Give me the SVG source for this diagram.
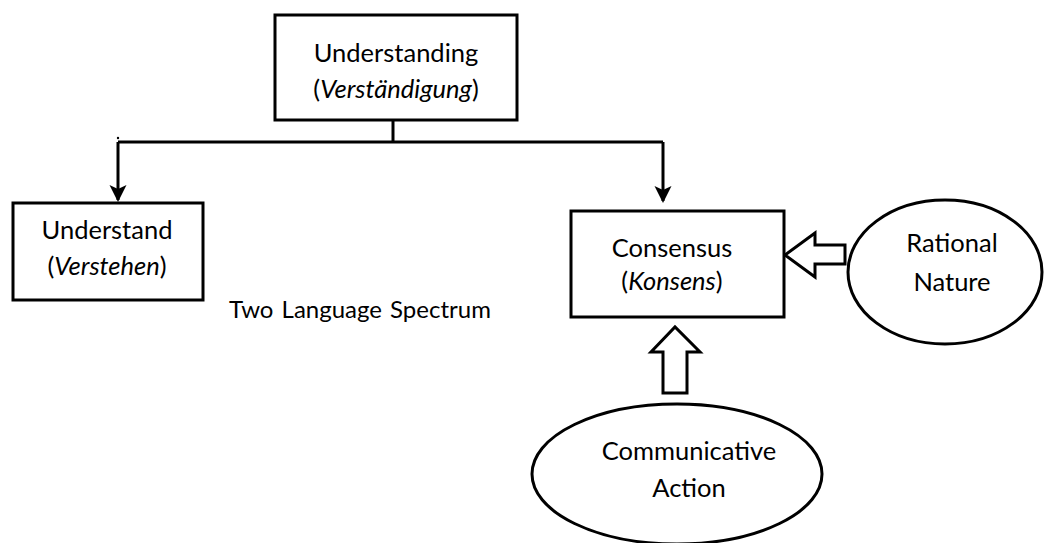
<svg xmlns="http://www.w3.org/2000/svg" width="1046" height="543" viewBox="0 0 1046 543">
<defs>
<style>
.box{fill:#fff;stroke:#000;stroke-width:3}
.ell{fill:#fff;stroke:#000;stroke-width:3}
.hol{fill:#fff;stroke:#000;stroke-width:3;stroke-linejoin:miter}
.ln{fill:none;stroke:#000;stroke-width:3}
text{font-family:Lato,"Liberation Sans",sans-serif;font-size:25.5px;fill:#000;text-anchor:middle}
.it{font-style:italic}
</style>
<marker id="ah" markerWidth="17" markerHeight="18" refX="15" refY="8.5" orient="auto" markerUnits="userSpaceOnUse">
<path d="M0,0 L17,8.5 L0,17 L4,8.5 Z" fill="#000"/>
</marker>
</defs>
<rect width="1046" height="543" fill="#fff"/>
<g id="connectors">
<path class="ln" d="M393,120 V142"/>
<path class="ln" d="M118,142 H663"/>
<path class="ln" d="M118,142 V200" marker-end="url(#ah)"/>
<path class="ln" d="M663,142 V201" marker-end="url(#ah)"/>
<path class="hol" d="M845,245 H815 V233 L785,255 L815,277 V264 H845 Z"/>
<path class="hol" d="M663,393 V352 H651 L675,327 L700,352 H687 V393 Z"/>
<circle cx="118" cy="138" r="1.2" fill="#000"/>
<circle cx="196" cy="239" r="1.2" fill="#000"/>
</g>
<g id="understanding">
<rect class="box" x="275" y="15" width="242" height="105"/>
<text x="396" y="62">Understanding</text>
<text x="396" y="98">(<tspan class="it">Verständigung</tspan>)</text>
</g>
<g id="understand">
<rect class="box" x="13" y="203" width="190" height="97"/>
<text x="107" y="239">Understand</text>
<text x="107" y="275">(<tspan class="it">Verstehen</tspan>)</text>
</g>
<g id="consensus">
<rect class="box" x="571" y="211" width="213" height="106"/>
<text x="672" y="257">Consensus</text>
<text x="672" y="290">(<tspan class="it">Konsens</tspan>)</text>
</g>
<g id="rational">
<ellipse class="ell" cx="945" cy="272" rx="97" ry="72"/>
<text x="952" y="252">Rational</text>
<text x="952" y="291">Nature</text>
</g>
<g id="communicative">
<ellipse class="ell" cx="677" cy="474" rx="145" ry="70"/>
<text x="689" y="460">Communicative</text>
<text x="689" y="497">Action</text>
</g>
<g id="label">
<text x="360" y="318" style="font-size:24px;word-spacing:2px">Two Language Spectrum</text>
</g>
</svg>
